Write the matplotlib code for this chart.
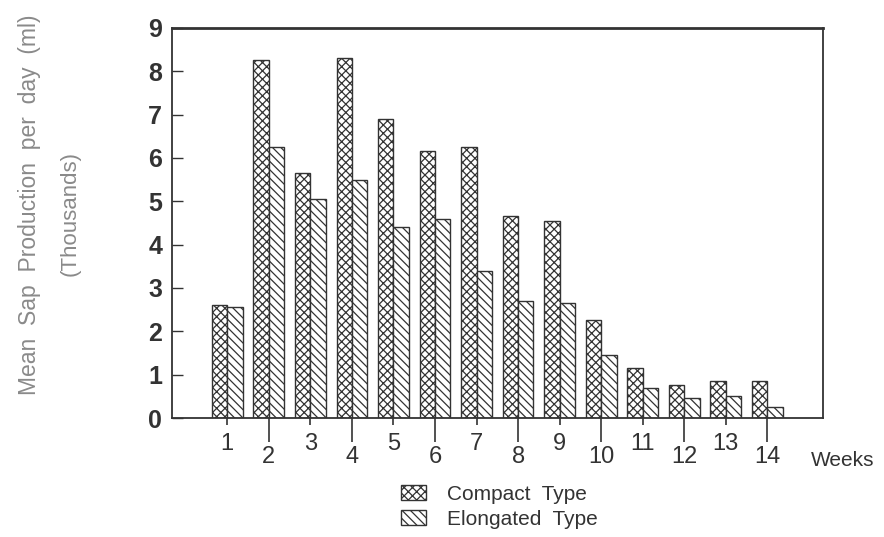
import numpy as np
import matplotlib.pyplot as plt
from matplotlib.patches import Patch

plt.rcParams['font.family'] = ['Liberation Sans', 'DejaVu Sans']
plt.rcParams['hatch.linewidth'] = 0.9

weeks = np.arange(1, 15)
compact = [2.6, 8.25, 5.65, 8.3, 6.9, 6.15, 6.25, 4.65, 4.55, 2.25, 1.15, 0.75, 0.85, 0.85]
elongated = [2.55, 6.25, 5.05, 5.5, 4.4, 4.6, 3.4, 2.7, 2.65, 1.45, 0.7, 0.45, 0.5, 0.25]
labels = ['Compact  Type', 'Elongated  Type']

edge = '#333333'
w = 0.37

fig = plt.figure(figsize=(8.84, 5.37), dpi=100)
ax = fig.add_axes([0.1946, 0.2216, 0.7364, 0.7263])

ax.bar(weeks - w / 2, compact, w, color='white', edgecolor=edge, hatch='xxxx', linewidth=1)
ax.bar(weeks + w / 2, elongated, w, color='white', edgecolor=edge, hatch='\\\\\\\\', linewidth=1)

ax.set_xlim(-0.33, 15.34)
ax.set_ylim(0, 9)

# even weeks hang lower than odd ones
ax.set_xticks(weeks[1::2])
ax.set_xticks(weeks[0::2], minor=True)
ax.set_xticklabels([str(i) for i in weeks[1::2]])
ax.set_xticklabels([str(i) for i in weeks[0::2]], minor=True)
ax.tick_params(axis='x', which='major', direction='out', length=17, width=1.2,
               pad=3, labelsize=17, colors=edge)
ax.tick_params(axis='x', which='minor', direction='out', length=5, width=1.2,
               pad=6, labelsize=17, colors=edge)

ax.set_yticks(range(0, 10))
ax.tick_params(axis='y', direction='in', length=8, width=1, pad=7,
               labelsize=18, colors=edge)
for t in ax.get_yticklabels():
    t.set_fontweight('bold')

for s in ax.spines.values():
    s.set_color(edge)
    s.set_linewidth(1.3)
ax.spines['top'].set_linewidth(2)

fig.text(843 / 884, 1 - 460 / 537, 'Weeks', fontsize=15, color=edge, ha='center', va='center')

fig.text(30 / 884, 1 - 205 / 537, 'Mean  Sap  Production  per  day  (ml)', rotation=90,
         fontsize=16.5, color='#8a8a8a', ha='center', va='center')
fig.text(70 / 884, 1 - 213 / 537, '(Thousands)', rotation=90,
         fontsize=16, color='#8a8a8a', ha='center', va='center')

handles = [Patch(facecolor='white', edgecolor=edge, hatch='xxxx'),
           Patch(facecolor='white', edgecolor=edge, hatch='\\\\\\\\')]
fig.legend(handles, labels, loc='center', bbox_to_anchor=(499 / 884, 1 - 507 / 537),
           frameon=False, fontsize=15, handlelength=1.2, handleheight=0.75,
           labelspacing=0.3, handletextpad=1.0, labelcolor=edge)

fig.savefig('out.png', dpi=100)
